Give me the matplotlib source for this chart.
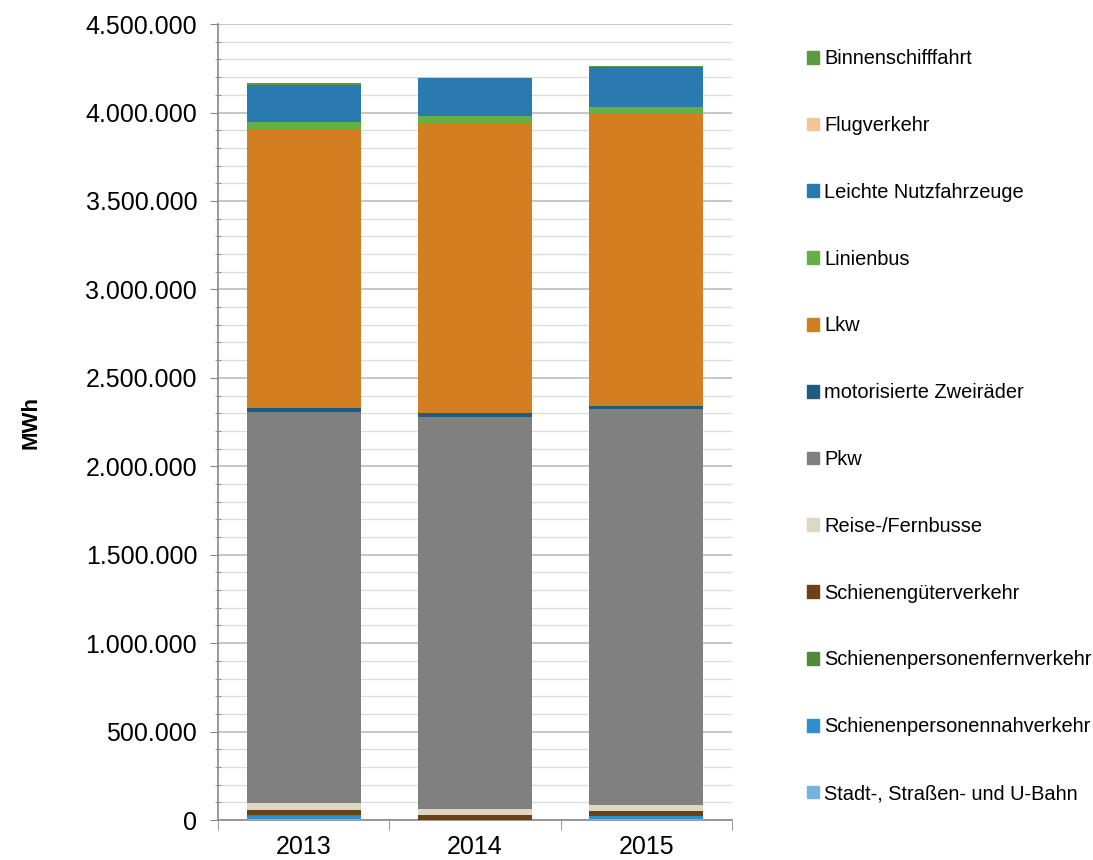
import numpy as np
import matplotlib.pyplot as plt
from matplotlib.ticker import MultipleLocator, FuncFormatter
from matplotlib.patches import Patch

plt.rcParams['font.family'] = ['Liberation Sans', 'DejaVu Sans']

years = ['2013', '2014', '2015']

# Endenergie nach Verkehrsträger in MWh (von unten nach oben gestapelt)
stadt_ubahn = [3000, 0, 3000]
spnv = [21000, 0, 17000]
spfv = [2000, 2000, 5000]
schienengueter = [28000, 25000, 26000]
reisebusse = [40000, 36000, 36000]
pkw = [2214000, 2217000, 2236000]
zweiraeder = [19000, 21000, 19000]
lkw = [1577000, 1637000, 1649000]
linienbus = [40000, 41000, 40000]
lnf = [211000, 218000, 224000]
flugverkehr = [2000, 1000, 2000]
binnenschiff = [8000, 4000, 6000]

series = [
    ('Stadt-, Straßen- und U-Bahn', stadt_ubahn, '#72b4df'),
    ('Schienenpersonennahverkehr', spnv, '#2f8ecf'),
    ('Schienenpersonenfernverkehr', spfv, '#4f8a3a'),
    ('Schienengüterverkehr', schienengueter, '#6b4216'),
    ('Reise-/Fernbusse', reisebusse, '#ddd8c4'),
    ('Pkw', pkw, '#808080'),
    ('motorisierte Zweiräder', zweiraeder, '#1f5a80'),
    ('Lkw', lkw, '#d17f21'),
    ('Linienbus', linienbus, '#66af45'),
    ('Leichte Nutzfahrzeuge', lnf, '#2a7ab0'),
    ('Flugverkehr', flugverkehr, '#f2c593'),
    ('Binnenschifffahrt', binnenschiff, '#5a9b3f'),
]

fig = plt.figure(figsize=(10.93, 8.6), dpi=100)
ax = fig.add_axes([0.1995, 0.0465, 0.4703, 0.9255])

x = np.arange(len(years))
bottom = np.zeros(len(years))
for name, vals, col in series:
    ax.bar(x, vals, width=0.665, bottom=bottom, color=col, zorder=3)
    bottom += np.array(vals)

ax.set_xlim(-0.5, 2.5)
ax.set_ylim(0, 4500000)
ax.yaxis.set_major_locator(MultipleLocator(500000))
ax.yaxis.set_minor_locator(MultipleLocator(100000))
ax.yaxis.set_major_formatter(FuncFormatter(lambda v, p: f'{int(v):,}'.replace(',', '.')))
ax.grid(which='major', axis='y', color='#bdbdbd', lw=1.2, zorder=0)
ax.grid(which='minor', axis='y', color='#dcdcdc', lw=1.0, zorder=0)

ax.set_xticks(x)
ax.set_xticklabels(years)
ax.set_xticks([-0.5, 0.5, 1.5, 2.5], minor=True)
ax.tick_params(axis='x', which='major', length=0, pad=11, labelsize=18)
ax.tick_params(axis='x', which='minor', length=7, color='#888888')
ax.tick_params(axis='y', which='major', length=6, color='#888888', labelsize=18, pad=9)
ax.tick_params(axis='y', which='minor', length=5, direction='inout', color='#888888')

for s in ['top', 'right']:
    ax.spines[s].set_visible(False)
for s in ['left', 'bottom']:
    ax.spines[s].set_color('#888888')
    ax.spines[s].set_linewidth(1.2)

ax.set_ylabel('MWh', fontsize=16, fontweight='bold', labelpad=32)

handles = [Patch(color=col, label=name) for name, vals, col in reversed(series)]
fig.legend(handles=handles, loc='upper left', bbox_to_anchor=(0.731, 0.952),
           frameon=False, fontsize=14.4, handlelength=0.6, handleheight=0.6,
           handletextpad=0.25, labelspacing=2.39, borderaxespad=0)

fig.savefig('out.png', dpi=100)
